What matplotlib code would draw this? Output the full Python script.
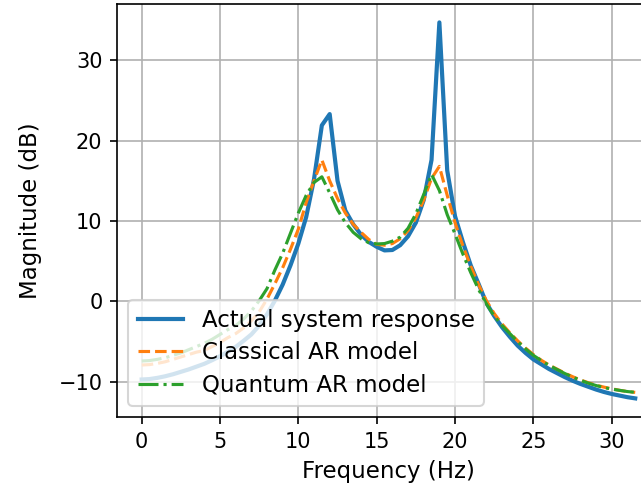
from matplotlib import pyplot as plt
import numpy as np

# frequency grid (Hz) and magnitude responses (dB)
freq = [0.0, 0.5, 1.0, 1.5, 2.0, 2.5, 3.0, 3.5,
        4.0, 4.5, 5.0, 5.5, 6.0, 6.5, 7.0, 7.5,
        8.0, 8.5, 9.0, 9.5, 10.0, 10.5, 11.0, 11.5,
        12.0, 12.5, 13.0, 13.5, 14.0, 14.5, 15.0, 15.5,
        16.0, 16.5, 17.0, 17.5, 18.0, 18.5, 19.0, 19.5,
        20.0, 20.5, 21.0, 21.5, 22.0, 22.5, 23.0, 23.5,
        24.0, 24.5, 25.0, 25.5, 26.0, 26.5, 27.0, 27.5,
        28.0, 28.5, 29.0, 29.5, 30.0, 30.5, 31.0, 31.5]

actual = [-9.7, -9.65, -9.5, -9.3, -9.05, -8.75, -8.45, -8.1,
          -7.75, -7.3, -6.8, -6.25, -5.65, -4.9, -4.1, -3.0,
          -1.6, 0.1, 2.1, 4.5, 7.2, 10.5, 15.2, 21.9,
          23.3, 15.0, 11.3, 9.6, 8.3, 7.4, 6.8, 6.35,
          6.4, 7.0, 8.1, 9.8, 12.6, 17.6, 34.7, 16.3,
          10.6, 7.4, 4.5, 2.2, -0.2, -1.8, -3.2, -4.4,
          -5.5, -6.4, -7.2, -7.8, -8.4, -8.9, -9.4, -9.85,
          -10.25, -10.6, -10.95, -11.25, -11.5, -11.7, -11.9, -12.05]

classical = [-7.9, -7.85, -7.7, -7.5, -7.2, -6.9, -6.6, -6.3,
             -6.1, -5.6, -5.1, -4.5, -4.0, -3.3, -2.4, -1.3,
             0.3, 2.2, 4.2, 6.5, 9.0, 12.3, 15.0, 17.6,
             15.0, 12.8, 11.0, 9.6, 8.6, 7.7, 7.1, 7.0,
             7.2, 7.8, 8.8, 10.4, 12.6, 15.3, 16.8, 13.2,
             9.8, 6.9, 4.4, 2.1, 0.1, -1.5, -2.8, -3.9,
             -4.9, -5.8, -6.6, -7.3, -7.9, -8.4, -8.9, -9.35,
             -9.75, -10.1, -10.4, -10.65, -10.85, -11.05, -11.2, -11.3]

quantum = [-7.4, -7.35, -7.2, -7.0, -6.7, -6.4, -6.0, -5.6,
           -5.2, -4.7, -4.1, -3.5, -3.0, -2.2, -1.2, 0.1,
           1.6, 3.9, 6.0, 8.5, 11.0, 13.2, 14.8, 15.5,
           13.5, 11.4, 9.8, 8.6, 7.8, 7.3, 7.15, 7.2,
           7.5, 8.0, 9.1, 10.9, 13.3, 15.8, 13.8, 10.8,
           8.4, 5.9, 3.6, 1.5, -0.3, -1.8, -3.0, -4.0,
           -5.0, -5.9, -6.7, -7.35, -7.95, -8.45, -8.95, -9.4,
           -9.8, -10.15, -10.45, -10.7, -10.9, -11.05, -11.2, -11.3]

fig = plt.figure(figsize=(641/150, 486/150), dpi=150)
ax = fig.add_axes([0.1825, 0.1416, 0.847, 0.851])

ax.plot(freq, actual, lw=2, label="Actual system response")
ax.plot(freq, classical, "--", lw=1.5, label="Classical AR model")
ax.plot(freq, quantum, "-.", lw=1.5, label="Quantum AR model")
ax.set_xlabel("Frequency (Hz)", fontsize=11)
ax.set_ylabel("Magnitude (dB)", fontsize=11, labelpad=8)
ax.grid(True)
ax.legend(loc="lower left", fontsize=11, labelspacing=0.4)

fig.savefig("out.png", dpi=150)
